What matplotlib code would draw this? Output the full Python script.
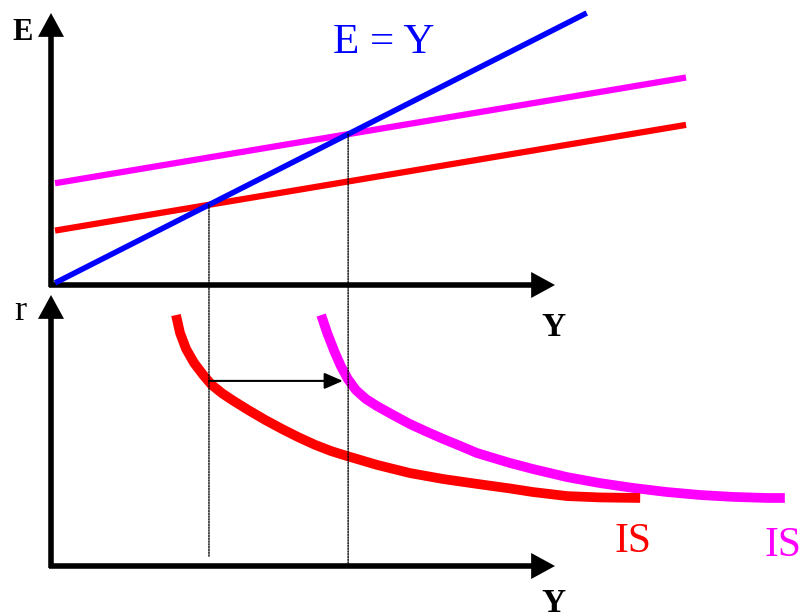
import matplotlib
matplotlib.use('Agg')
import matplotlib.pyplot as plt
from matplotlib.patches import ConnectionPatch

# ---------------- data ----------------
Y_max = 10.0          # length of the Y axes (income units)
E_max = 10.63         # length of the E axis
r_max = 10.0          # length of the r axis
mpc = 0.33            # slope of planned-expenditure lines
autonomous = [2.1, 3.95]          # intercepts: initial (red), after shift (magenta)
pe_colors = ['#ff0000', '#ff00ff']
pe_Y = [0.08, 12.6]               # span of planned-expenditure lines
diag_Y = [0.08, 10.63]            # span of the E = Y line

is_red_Y = [2.48, 2.56, 2.68, 2.84, 3.02, 3.19, 3.39, 3.59, 3.91, 4.25, 4.58,
            4.90, 5.24, 5.56, 5.87, 6.47, 7.12, 7.78, 8.45, 9.11, 9.56,
            10.24, 10.89, 11.69]
is_red_r = [9.26, 8.60, 8.01, 7.49, 7.05, 6.68, 6.38, 6.13, 5.76, 5.39, 5.06,
            4.76, 4.47, 4.24, 4.06, 3.73, 3.43, 3.21, 3.03, 2.86, 2.73,
            2.58, 2.53, 2.51]
is_mag_Y = [5.36, 5.48, 5.62, 5.75, 5.89, 6.05, 6.25, 6.47, 6.79, 7.12, 7.46,
            7.78, 8.12, 8.45, 8.77, 9.11, 9.56, 10.24, 10.89, 11.55, 12.22,
            12.88, 13.53, 14.21, 14.56]
is_mag_r = [9.26, 8.60, 7.93, 7.38, 6.90, 6.49, 6.16, 5.90, 5.57, 5.24, 4.95,
            4.69, 4.43, 4.17, 3.99, 3.80, 3.58, 3.28, 3.06, 2.88, 2.73,
            2.62, 2.55, 2.51, 2.51]
arrow_r = 6.83
arrow_end_Y = 5.79
dotted_end_r = [0.33, 0.0]

# ---------------- figure ----------------
W, H = 803, 616
fig = plt.figure(figsize=(W / 100, H / 100), dpi=100)
serif = ['Liberation Serif', 'DejaVu Serif']

def px_axes(x0, y_top, x1, y_bot):
    return fig.add_axes([x0 / W, 1 - y_bot / H, (x1 - x0) / W, (y_bot - y_top) / H])

ax1 = px_axes(51, 13, 555, 285)
ax2 = px_axes(51, 295, 555, 566)
ax1.set_xlim(0, Y_max); ax1.set_ylim(0, E_max)
ax2.set_xlim(0, Y_max); ax2.set_ylim(0, r_max)
for ax in (ax1, ax2):
    ax.axis('off')
    hpad = 2.0 / 504
    vpad = 2.0 / 272
    ax.annotate('', xy=(1.0, 0), xytext=(-hpad, 0), xycoords='axes fraction',
                arrowprops=dict(arrowstyle='-|>,head_length=0.55,head_width=0.3',
                                lw=4, color='black', shrinkA=0, shrinkB=0,
                                capstyle='butt', joinstyle='miter',
                                mutation_scale=20), annotation_clip=False)
    ax.annotate('', xy=(0, 1.0), xytext=(0, -vpad), xycoords='axes fraction',
                arrowprops=dict(arrowstyle='-|>,head_length=0.55,head_width=0.3',
                                lw=4, color='black', shrinkA=0, shrinkB=0,
                                capstyle='butt', joinstyle='miter',
                                mutation_scale=20), annotation_clip=False)

# E = Y line
ax1.plot(diag_Y, diag_Y, color='#0000ff', lw=4, solid_capstyle='butt',
         clip_on=False, zorder=3)
# planned expenditure lines + equilibrium
eq_Y = []
for a, c in zip(autonomous, pe_colors):
    ax1.plot(pe_Y, [a + mpc * y for y in pe_Y], color=c, lw=4.5,
             solid_capstyle='butt', clip_on=False, zorder=2)
    eq_Y.append(a / (1 - mpc))

# dotted guide lines spanning both panels
for yq, rend in zip(eq_Y, dotted_end_r):
    con = ConnectionPatch(xyA=(yq, yq), coordsA=ax1.transData,
                          xyB=(yq, rend), coordsB=ax2.transData,
                          linestyle=(0, (1, 1)), lw=1, color='black', zorder=1)
    fig.add_artist(con)

# IS curves
ax2.plot(is_red_Y, is_red_r, color='#ff0000', lw=7, solid_joinstyle='round',
         solid_capstyle='butt', clip_on=False, zorder=3)
ax2.plot(is_mag_Y, is_mag_r, color='#ff00ff', lw=7, solid_joinstyle='round',
         solid_capstyle='butt', clip_on=False, zorder=2)

# shift arrow
ax2.annotate('', xy=(arrow_end_Y, arrow_r), xytext=(eq_Y[0], arrow_r),
             arrowprops=dict(arrowstyle='-|>,head_length=0.8,head_width=0.35',
                             lw=1.5, color='black', shrinkA=0, shrinkB=0,
                             mutation_scale=14), zorder=4)

# texts (figure pixel positions)
def ftext(x, y, s, **kw):
    fig.text(x / W, 1 - y / H, s, ha='center', va='center', family=serif, **kw)

ftext(23, 32, 'E', fontsize=22, fontweight='bold')
ftext(384, 43, 'E = Y', fontsize=31, color='#0000ff')
ftext(553, 328, 'Y', fontsize=24, fontweight='bold')
ftext(20, 311, 'r', fontsize=26)
ftext(553, 603, 'Y', fontsize=24, fontweight='bold')
ftext(633, 542, 'IS', fontsize=30, color='#ff0000')
ftext(783, 546, 'IS', fontsize=30, color='#ff00ff')

fig.savefig('out.png', dpi=100)
